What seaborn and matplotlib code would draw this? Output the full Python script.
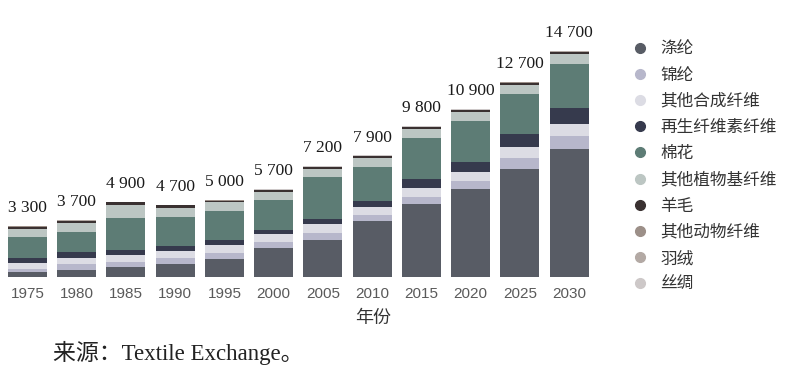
import matplotlib
matplotlib.use("Agg")
import matplotlib.pyplot as plt
from matplotlib.lines import Line2D
import seaborn as sns
import pandas as pd

years = ["1975", "1980", "1985", "1990", "1995", "2000", "2005", "2010", "2015", "2020", "2025", "2030"]
total_labels = ["3 300", "3 700", "4 900", "4 700", "5 000", "5 700", "7 200", "7 900", "9 800", "10 900", "12 700", "14 700"]

fibers = ["涤纶", "锦纶", "其他合成纤维", "再生纤维素纤维", "棉花", "其他植物基纤维",
          "羊毛", "其他动物纤维", "羽绒", "丝绸"]

polyester = [330, 475, 650, 850, 1190, 1880, 2430, 3640, 4750, 5730, 7050, 8300]
nylon = [220, 345, 305, 370, 350, 370, 415, 375, 435, 500, 670, 885]
other_synthetic = [330, 410, 455, 500, 510, 560, 570, 505, 605, 585, 715, 775]
cellulosic = [375, 370, 325, 280, 350, 260, 330, 415, 605, 650, 845, 1035]
cotton = [1360, 1345, 2110, 1895, 1915, 1920, 2755, 2240, 2665, 2650, 2595, 2845]
other_plant = [510, 540, 830, 590, 550, 560, 525, 570, 585, 630, 605, 645]
wool = [150, 170, 170, 170, 100, 120, 130, 110, 110, 110, 130, 130]
other_animal = [10, 15, 20, 15, 10, 10, 15, 15, 15, 15, 40, 35]
down = [5, 10, 15, 10, 10, 5, 10, 10, 10, 10, 25, 20]
silk = [10, 20, 20, 20, 15, 15, 20, 20, 20, 20, 25, 30]

series = [polyester, nylon, other_synthetic, cellulosic, cotton, other_plant,
          wool, other_animal, down, silk]
colors = ["#585c65", "#b7b7cb", "#dcdce4", "#363a4d", "#5d7c75", "#bcc6c3",
          "#3a3131", "#9c8f88", "#b3a9a4", "#cdc8c8"]

rows = []
for f, vals in zip(fibers, series):
    for y, v in zip(years, vals):
        rows.append({"year": y, "fiber": f, "value": v})
df = pd.DataFrame(rows)

sns.set_style("white")
plt.rcParams["font.family"] = ["Liberation Sans", "Noto Sans CJK SC"]

fig = plt.figure(figsize=(7.95, 3.74), dpi=100)
ax = fig.add_axes([5.3 / 795, 97 / 374, 586 / 795, 253.8 / 374])

# seaborn stacks the last hue level at the bottom, so reverse the order
sns.histplot(data=df, x="year", hue="fiber", weights="value", multiple="stack",
             discrete=True, shrink=0.79, hue_order=fibers[::-1],
             palette=dict(zip(fibers, colors)), alpha=1, linewidth=0,
             edgecolor="none", legend=False, ax=ax)

ax.set_xlim(-0.45, 11.45)
ax.set_ylim(0, 16500)
ax.set_yticks([])
ax.set_ylabel("")
ax.set_xlabel("")
ax.set_xticks(range(len(years)))
ax.set_xticklabels(years, fontsize=11, color="#5a5a5a", family=["Liberation Sans"])
ax.tick_params(axis="x", length=0, pad=7)
for s in ax.spines.values():
    s.set_visible(False)

totals = [sum(vals[i] for vals in series) for i in range(len(years))]
for i, (t, lab) in enumerate(zip(totals, total_labels)):
    ax.annotate(lab, xy=(i, t), xytext=(0, 10), textcoords="offset points",
                ha="center", va="baseline", fontsize=12.5, color="#1a1a1a",
                family=["Liberation Serif"], annotation_clip=False)

fig.text(373 / 795, 1 - 318 / 374, "年份", ha="center", va="center",
         fontsize=13, color="#333333", family=["Noto Sans CJK SC"])

fig.text(53 / 795, 1 - 353 / 374, "来源：Textile Exchange。", ha="left", va="center",
         fontsize=16.5, color="#222222", family=["Liberation Serif", "Noto Sans CJK SC"])

handles = [Line2D([0], [0], marker="o", linestyle="none", markersize=7,
                  markerfacecolor=c, markeredgecolor=c) for c in colors]
leg = fig.legend(handles, fibers, loc="upper left", bbox_to_anchor=(631.7 / 795, 1 - 40.5 / 374),
                 frameon=False, labelspacing=0.55, handletextpad=0.7,
                 handlelength=1.0, borderaxespad=0, borderpad=0,
                 prop={"family": ["Noto Sans CJK SC"], "size": 12})
for t in leg.get_texts():
    t.set_color("#333333")

fig.savefig("out.png", dpi=100)
